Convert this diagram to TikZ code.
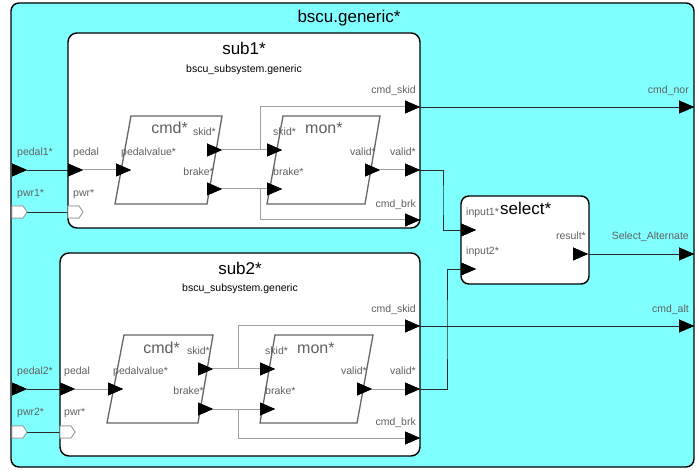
\documentclass[tikz,border=0pt]{standalone}
\usepackage{fontspec}
\setmainfont{Liberation Sans}
\definecolor{cyanbg}{HTML}{80FFFF}
\definecolor{lbl}{HTML}{606060}
\definecolor{inlc}{HTML}{A0A0A0}
\definecolor{exlc}{HTML}{2A2A2A}
\definecolor{parac}{HTML}{666666}
\tikzset{
 tri/.pic={\fill[black] (0,-6.5) -- (15,0) -- (0,6.5) -- cycle; \coordinate (-w) at (0,0); \coordinate (-e) at (15,0);},
 pwr/.pic={\filldraw[fill=white,draw=gray!80,line width=0.8pt] (0,-6) -- (11,-6) -- (15,0) -- (11,6) -- (0,6) -- cycle; \coordinate (-w) at (0,0); \coordinate (-e) at (15,0);},
 box/.style={draw=black, line width=1.4pt, rounded corners=9pt, fill=white, inner sep=0pt},
 para/.style={draw=parac, line width=1.3pt, fill=white},
 inl/.style={draw=inlc, line width=1pt},
 exl/.style={draw=exlc, line width=0.9pt},
 plbl/.style={font=\fontsize{10.5}{12}\selectfont, text=lbl, inner sep=0pt},
 ttl/.style={font=\fontsize{17}{20}\selectfont, text=black, inner sep=0pt},
 blkt/.style={font=\fontsize{16}{19}\selectfont, text=lbl, inner sep=0pt},
 sub/.style={font=\fontsize{10.5}{12}\selectfont, text=black, inner sep=0pt},
}
\begin{document}
\begin{tikzpicture}[x=1pt,y=-1pt]
\useasboundingbox (0,0) rectangle (699,470);
% containers
\node[box, fill=cyanbg, rounded corners=8pt, minimum width=683pt, minimum height=464pt] (top) at (352.5,235) {};
\node[ttl] (toptitle) at (349,18) {bscu.generic*};
\node[box, minimum width=352pt, minimum height=195pt] (sub1) at (244,130.5) {};
\node[box, minimum width=360pt, minimum height=203pt] (sub2) at (240,354.5) {};
\node[box, rounded corners=8pt, minimum width=128pt, minimum height=88pt] (sel) at (525,240) {};
\node[ttl] (s1t) at (244,48) {sub1*};
\node[sub] (s1st) at (244,70) {bscu\_subsystem.generic};
\node[ttl] (s2t) at (240,268) {sub2*};
\node[sub] (s2st) at (240,289) {bscu\_subsystem.generic};
\node[ttl, anchor=mid west] (selt) at (500,212) {select*};
% blocks
\draw[para] (131,116) -- (222,116) -- (207,204) -- (115,204) -- cycle;
\draw[para] (283,116) -- (380,116) -- (365,204) -- (267,204) -- cycle;
\draw[para] (124,335) -- (213,335) -- (198,423) -- (107,423) -- cycle;
\draw[para] (275,335) -- (373,335) -- (357,423) -- (260,423) -- cycle;
% branch coordinates
\coordinate (b1) at (260,130);
\coordinate (b2) at (238,400);
\coordinate (j1) at (443,200);
\coordinate (j2) at (447,330);
% ports (coordinates)
\path (12,170) pic (P1) {tri} (12,212) pic (W1) {pwr}
      (68,170) pic (s1p) {tri} (68,212) pic (s1w) {pwr}
      (116,170) pic (c1pv) {tri} (207,150) pic (c1sk) {tri} (207,189) pic (c1br) {tri}
      (267,150) pic (m1sk) {tri} (267,189) pic (m1br) {tri} (365,170) pic (m1v) {tri}
      (405,107) pic (s1osk) {tri} (405,170) pic (s1ov) {tri} (405,220) pic (s1obr) {tri}
      (679,107) pic (onor) {tri} (679,254) pic (osel) {tri} (679,326) pic (oalt) {tri}
      (461,230) pic (si1) {tri} (461,269) pic (si2) {tri} (573,254) pic (sres) {tri}
      (12,389) pic (P2) {tri} (12,432) pic (W2) {pwr}
      (60,389) pic (s2p) {tri} (60,432) pic (s2w) {pwr}
      (108,389) pic (c2pv) {tri} (198,369) pic (c2sk) {tri} (198,409) pic (c2br) {tri}
      (260,369) pic (m2sk) {tri} (260,409) pic (m2br) {tri} (357,389) pic (m2v) {tri}
      (405,326) pic (s2osk) {tri} (405,389) pic (s2ov) {tri} (405,438) pic (s2obr) {tri};
% inner connectors
\draw[inl] (s1p-e) -- (c1pv-w);
\draw[inl] (c1sk-e) -- (m1sk-w);
\draw[inl] (c1br-e) -- (m1br-w);
\draw[inl] (m1v-e) -- (s1ov-w);
\draw[inl] (b1 |- c1sk-e) -- (b1 |- s1osk-w) -- (s1osk-w);
\draw[inl] (b1 |- c1br-e) -- (b1 |- s1obr-w) -- (s1obr-w);
\draw[inl] (s2p-e) -- (c2pv-w);
\draw[inl] (c2sk-e) -- (m2sk-w);
\draw[inl] (c2br-e) -- (m2br-w);
\draw[inl] (m2v-e) -- (s2ov-w);
\draw[inl] (b2 |- c2sk-e) -- (b2 |- s2osk-w) -- (s2osk-w);
\draw[inl] (b2 |- c2br-e) -- (b2 |- s2obr-w) -- (s2obr-w);
% outer connectors
\draw[exl] (P1-e) -- (s1p-w);
\draw[exl] (W1-e) -- (s1w-w);
\draw[exl] (P2-e) -- (s2p-w);
\draw[exl] (W2-e) -- (s2w-w);
\draw[exl] (s1osk-e) -- (onor-w);
\draw[exl] (s2osk-e) -- (oalt-w);
\draw[exl] (sres-e) -- (osel-w);
\draw[exl] (s1ov-e) -| (j1) |- (si1-w);
\draw[exl] (s2ov-e) -| (j2) |- (si2-w);
% redraw ports on top
\path (12,170) pic {tri} (68,170) pic {tri} (116,170) pic {tri} (207,150) pic {tri} (207,189) pic {tri}
      (267,150) pic {tri} (267,189) pic {tri} (365,170) pic {tri}
      (405,107) pic {tri} (405,170) pic {tri} (405,220) pic {tri}
      (679,107) pic {tri} (679,254) pic {tri} (679,326) pic {tri}
      (461,230) pic {tri} (461,269) pic {tri} (573,254) pic {tri}
      (12,389) pic {tri} (60,389) pic {tri} (108,389) pic {tri} (198,369) pic {tri} (198,409) pic {tri}
      (260,369) pic {tri} (260,409) pic {tri} (357,389) pic {tri}
      (405,326) pic {tri} (405,389) pic {tri} (405,438) pic {tri}
      (12,212) pic {pwr} (68,212) pic {pwr} (12,432) pic {pwr} (60,432) pic {pwr};
% labels sub1
\node[plbl, anchor=mid west] (l1) at (17,153) {pedal1*};
\node[plbl, anchor=mid west] (l2) at (17,194) {pwr1*};
\node[plbl, anchor=mid west] (l3) at (73,153) {pedal};
\node[plbl, anchor=mid west] (l4) at (73,194) {pwr*};
\node[blkt, anchor=mid east] (l5) at (188,131) {cmd*};
\node[plbl, anchor=mid east] (l6) at (216,133) {skid*};
\node[plbl, anchor=mid west] (l7) at (121,153) {pedalvalue*};
\node[plbl, anchor=mid east] (l8) at (214,173) {brake*};
\node[plbl, anchor=mid west] (l9) at (273,133) {skid*};
\node[blkt, anchor=mid west] (l10) at (305,131) {mon*};
\node[plbl, anchor=mid west] (l11) at (273,173) {brake*};
\node[plbl, anchor=mid east] (l12) at (376,153) {valid*};
\node[plbl, anchor=mid east] (l13) at (416,91) {cmd\_skid};
\node[plbl, anchor=mid east] (l14) at (416,153) {valid*};
\node[plbl, anchor=mid east] (l15) at (416,205) {cmd\_brk};
\node[plbl, anchor=mid east] (l16) at (689,91) {cmd\_nor};
% labels select
\node[plbl, anchor=mid west] (l17) at (466,213) {input1*};
\node[plbl, anchor=mid west] (l18) at (466,252) {input2*};
\node[plbl, anchor=mid east] (l19) at (586,237) {result*};
\node[plbl, anchor=mid east] (l20) at (689,237) {Select\_Alternate};
\node[plbl, anchor=mid east] (l21) at (689,310) {cmd\_alt};
% labels sub2
\node[plbl, anchor=mid west] (l22) at (17,372) {pedal2*};
\node[plbl, anchor=mid west] (l23) at (17,413) {pwr2*};
\node[plbl, anchor=mid west] (l24) at (64,372) {pedal};
\node[plbl, anchor=mid west] (l25) at (64,413) {pwr*};
\node[blkt, anchor=mid east] (l26) at (180,351) {cmd*};
\node[plbl, anchor=mid east] (l27) at (210,352) {skid*};
\node[plbl, anchor=mid west] (l28) at (113,372) {pedalvalue*};
\node[plbl, anchor=mid east] (l29) at (204,392) {brake*};
\node[plbl, anchor=mid west] (l30) at (265,352) {skid*};
\node[blkt, anchor=mid west] (l31) at (297,351) {mon*};
\node[plbl, anchor=mid west] (l32) at (265,392) {brake*};
\node[plbl, anchor=mid east] (l33) at (367,372) {valid*};
\node[plbl, anchor=mid east] (l34) at (416,310) {cmd\_skid};
\node[plbl, anchor=mid east] (l35) at (416,372) {valid*};
\node[plbl, anchor=mid east] (l36) at (416,423) {cmd\_brk};
\end{tikzpicture}
\end{document}
